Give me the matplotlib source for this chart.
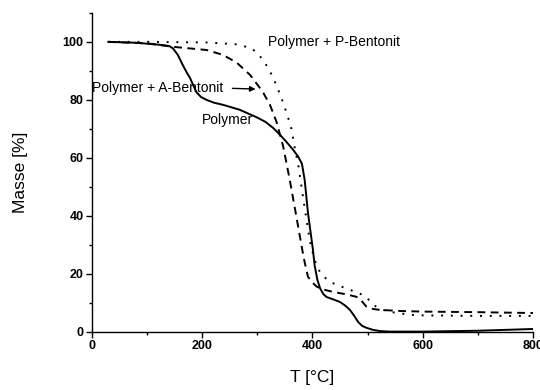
import numpy as np
import matplotlib
matplotlib.use("Agg")
import matplotlib.pyplot as plt

plt.rcParams['font.family'] = ['Liberation Sans', 'DejaVu Sans']

# Polymer (solid)
tPolymer = [30, 80, 123, 140, 147, 156, 165, 172, 178, 184, 190, 198, 208, 222, 238,
            268, 299, 315, 329, 341, 353, 365, 374, 381, 386, 392, 397, 401, 404,
            409, 414, 420, 426, 438, 450, 460, 468, 476, 483, 490, 498, 510, 522,
            540, 600, 700, 800]
mPolymer = [100, 99.7, 99, 98.6, 97.8, 95.5, 92, 89.5, 87.6, 85, 82.6, 81, 80, 79, 78.3,
            76.6, 74, 72.4, 70.3, 68, 65.5, 62.8, 60.5, 58, 52.4, 41, 34, 28.3, 23,
            18, 15, 13, 12, 11.2, 10.3, 9, 7.6, 5.5, 3.4, 2.1, 1.4, 0.7, 0.3,
            0.1, 0.1, 0.4, 1.0]

# Polymer + A-Bentonit (dashed)
tA = [30, 100, 147, 208, 238, 263, 287, 310, 323, 335, 347, 359, 371, 381,
      386, 392, 400, 408, 420, 437, 460, 480, 490, 498, 510, 522, 560, 600, 700, 800]
mA = [100, 99.5, 98.3, 97.2, 95.5, 92.8, 88.6, 82.8, 78.3, 72.4, 64, 52.4, 39.7, 29,
      24, 19, 17, 15.6, 14.6, 13.8, 13, 12.1, 10.5, 8.7, 7.9, 7.6, 7.2, 7.0, 6.8, 6.5]

# Polymer + P-Bentonit (dotted)
tP = [30, 100, 208, 260, 287, 300, 310, 320, 329, 338, 347, 355, 362, 368, 374,
      383, 395, 401, 408, 417, 432, 450, 468, 485, 498, 510, 525, 540, 577, 600, 700, 800]
mP = [100, 100, 99.8, 99.2, 98, 96.3, 93.8, 91, 87.6, 83.5, 79, 74.5, 70, 63.5, 58,
      46.5, 31.7, 27, 22.5, 19.7, 17.2, 15.8, 14.5, 13.3, 12, 9.3, 7.8, 6.9, 5.9, 5.7, 5.5, 5.5]

xTicks = [0, 200, 400, 600, 800]
yTicks = [0, 20, 40, 60, 80, 100]


def main():
    fig = plt.figure(figsize=(5.4, 3.9), dpi=100)
    ax = fig.add_axes([0.170, 0.149, 0.817, 0.818])

    ax.plot(tPolymer, mPolymer, color='black', linewidth=1.4, linestyle='-')
    ax.plot(tA, mA, color='black', linewidth=1.4, linestyle=(0, (4, 2.8)))
    ax.plot(tP, mP, color='black', linewidth=1.4, linestyle=(0, (1, 4)))

    ax.set_xlim(0, 800)
    ax.set_ylim(0, 110)
    ax.set_xticks(xTicks)
    ax.set_yticks(yTicks)
    ax.set_xticks([100, 300, 500, 700], minor=True)
    ax.set_yticks([10, 30, 50, 70, 90, 110], minor=True)
    ax.tick_params(which='major', direction='out', length=4, width=1,
                   labelsize=9, pad=2)
    ax.tick_params(which='minor', direction='out', length=2.5, width=1)
    for lbl in ax.get_xticklabels() + ax.get_yticklabels():
        lbl.set_fontweight('bold')

    ax.spines['top'].set_visible(False)
    ax.spines['right'].set_visible(False)
    ax.spines['left'].set_linewidth(1)
    ax.spines['bottom'].set_linewidth(1)

    ax.set_xlabel('T [°C]', fontsize=12.5, labelpad=13)
    ax.set_ylabel('Masse [%]', fontsize=12.5, labelpad=25)

    ax.text(319, 99.8, 'Polymer + P-Bentonit', fontsize=10, va='center', ha='left')
    ax.text(0, 84, 'Polymer + A-Bentonit', fontsize=10, va='center', ha='left')
    ax.annotate('', xy=(302, 83.7), xytext=(250, 84),
                arrowprops=dict(arrowstyle='-|>', color='black', lw=1,
                                mutation_scale=8))
    ax.text(200, 73, 'Polymer', fontsize=10, va='center', ha='left')

    fig.savefig('out.png', dpi=100)


main()
